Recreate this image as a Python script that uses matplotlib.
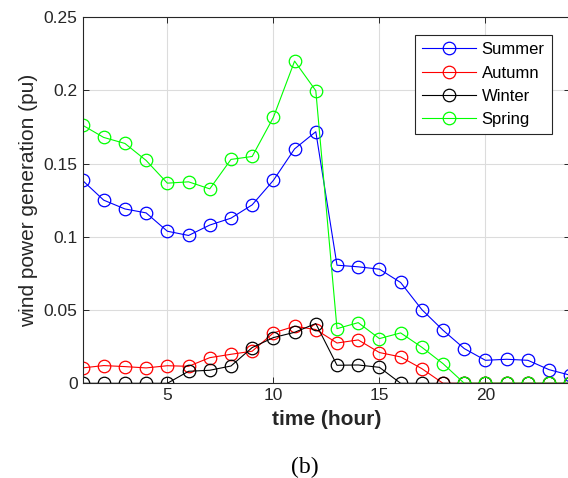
import numpy as np
import matplotlib
matplotlib.use("Agg")
import matplotlib.pyplot as plt

plt.rcParams['font.family'] = ['Liberation Sans', 'DejaVu Sans']

# hours and seasonal wind power (pu)
hours = np.arange(1, 25)
summer = [0.1385, 0.125, 0.119, 0.1163, 0.1038, 0.1009, 0.108, 0.1127, 0.1218, 0.1385,
          0.160, 0.1717, 0.0806, 0.0795, 0.0779, 0.0688, 0.0503, 0.0362, 0.0237, 0.0157,
          0.0164, 0.0157, 0.0093, 0.0055]
autumn = [0.0105, 0.0121, 0.0114, 0.0105, 0.012, 0.0116, 0.0175, 0.0198, 0.0219, 0.0344,
          0.0389, 0.0367, 0.0275, 0.0296, 0.021, 0.018, 0.010, 0, 0, 0,
          0, 0, 0, 0]
winter = [0, 0, 0, 0, 0, 0.0082, 0.0089, 0.0118, 0.0244, 0.0312,
          0.0348, 0.0408, 0.0123, 0.0125, 0.0109, 0, 0, 0, 0, 0,
          0, 0, 0, 0]
spring = [0.1762, 0.1678, 0.1637, 0.1521, 0.1366, 0.1375, 0.1327, 0.1528, 0.1548, 0.1815,
          0.2199, 0.1997, 0.0373, 0.0414, 0.0305, 0.0344, 0.0246, 0.0134, 0, 0,
          0, 0, 0, 0]

W, H = 568, 478
fig = plt.figure(figsize=(W / 100, H / 100), dpi=100)
ax = fig.add_axes([82.5 / W, (H - 383.3) / H, (570.3 - 82.5) / W, (383.3 - 17) / H])

style = dict(marker='o', markerfacecolor='none', markersize=9, markeredgewidth=0.9, linewidth=0.8)
ax.plot(hours, summer, color='#0000ff', label='Summer', **style)
ax.plot(hours, autumn, color='#ff0000', label='Autumn', **style)
ax.plot(hours, winter, color='#000000', label='Winter', **style)
ax.plot(hours, spring, color='#00ff00', label='Spring', **style)

ax.set_xlim(1, 24)
ax.set_ylim(0, 0.25)
ax.set_xticks([5, 10, 15, 20])
ax.set_yticks([0, 0.05, 0.1, 0.15, 0.2, 0.25])
ax.set_yticklabels(['0', '0.05', '0.1', '0.15', '0.2', '0.25'])
ax.grid(True, color='#dcdcdc', linewidth=0.8)
ax.set_axisbelow(True)
ax.tick_params(direction='in', length=4, width=0.7, labelsize=12.5, colors='#262626',
               top=True, right=True)
for s in ax.spines.values():
    s.set_linewidth(0.8)
    s.set_color('#262626')

ax.set_xlabel('time (hour)', fontsize=15, fontweight='bold', color='#262626', labelpad=5)
ax.set_ylabel('wind power generation (pu)', fontsize=15, color='#262626', labelpad=4)

leg = ax.legend(loc='upper right', bbox_to_anchor=(551.7 / W, 1 - 35 / H),
                bbox_transform=fig.transFigure, fontsize=12, handlelength=3.2,
                labelspacing=0.5, borderpad=0.43, handletextpad=0.35, borderaxespad=0,
                fancybox=False, framealpha=1, edgecolor='#262626')
leg.get_frame().set_linewidth(0.8)

fig.text(304.5 / W, 1 - 467 / H, '(b)', fontsize=17, family=['Liberation Serif'],
         ha='center', va='center')

fig.savefig('out.png', dpi=100)
